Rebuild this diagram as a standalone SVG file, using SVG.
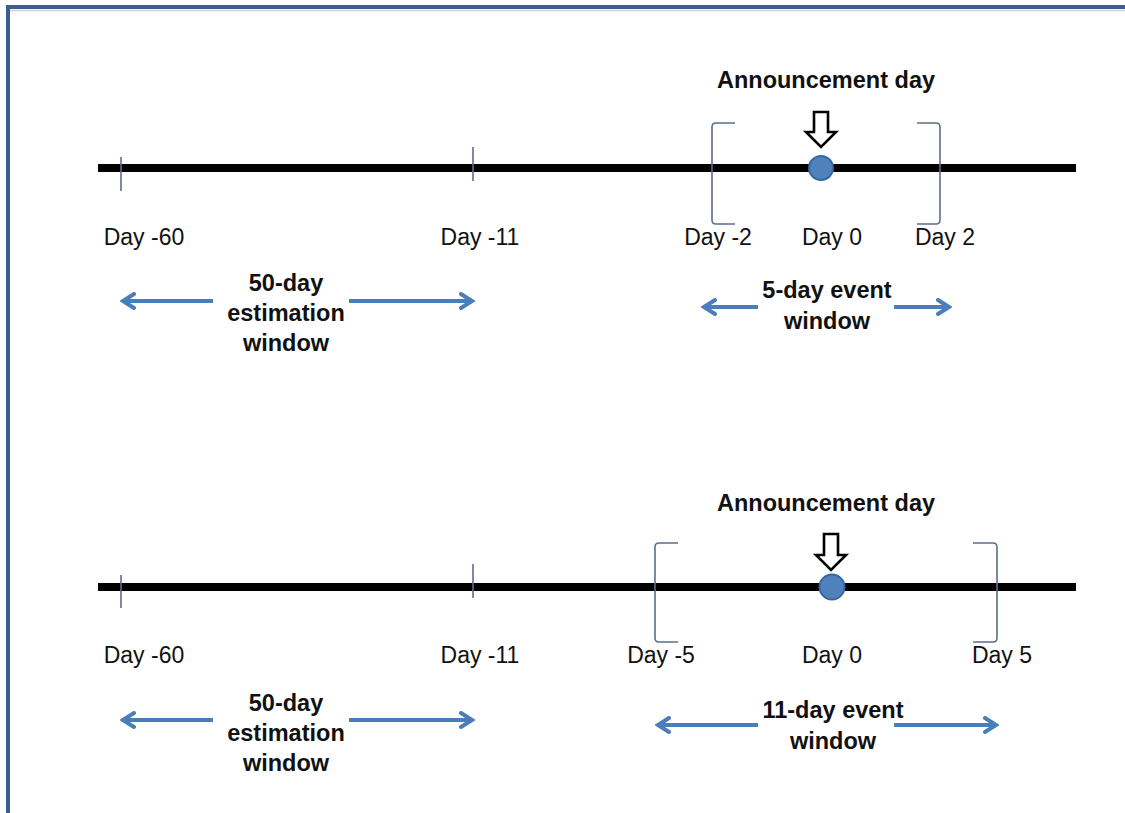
<svg xmlns="http://www.w3.org/2000/svg" width="1125" height="813" viewBox="0 0 1125 813">
<defs>
<style>
.frame{stroke:#3b5f8f;stroke-width:4;fill:none}
.axis{stroke:#000;stroke-width:8;fill:none}
.tick{stroke:#5b6f8c;stroke-width:1.6;fill:none}
.brk{stroke:#5b6f8c;stroke-width:1.6;fill:none}
.dot{fill:#4f81bd;stroke:#3867a0;stroke-width:2}
.hollow{fill:#fff;stroke:#000;stroke-width:2.6;stroke-linejoin:miter}
.blue{stroke:#4a7ebb;stroke-width:4;fill:none;marker-end:url(#head)}
.lbl{font-family:"Liberation Sans",Arial,sans-serif;font-size:23px;fill:#111;text-anchor:middle}
.bold{font-family:"Liberation Sans",Arial,sans-serif;font-size:23.5px;font-weight:bold;fill:#111;text-anchor:middle}
</style>
<marker id="head" viewBox="0 0 16 18" refX="13" refY="9" markerWidth="16" markerHeight="18" markerUnits="userSpaceOnUse" orient="auto">
<path d="M2,2 L13,9 L2,16" fill="none" stroke="#4a7ebb" stroke-width="4" stroke-linejoin="miter" stroke-linecap="round"/>
</marker>
</defs>
<rect width="1125" height="813" fill="#fff"/>
<g id="frame">
<line x1="6" y1="10.5" x2="1125" y2="10.5" stroke="#cfd3da" stroke-width="1.5"/>
<line x1="6" y1="7" x2="1125" y2="7" class="frame"/>
<line x1="8" y1="5" x2="8" y2="813" class="frame"/>
</g>

<g id="timeline1">
<line x1="98" y1="168" x2="1076" y2="168" class="axis"/>
<line x1="121" y1="157" x2="121" y2="191" class="tick"/>
<line x1="473" y1="147" x2="473" y2="181" class="tick"/>
<path class="brk" d="M735,123 H716 Q712,123 712,127 V220 Q712,224 716,224 H735"/>
<path class="brk" d="M917,123 H936 Q940,123 940,127 V220 Q940,224 936,224 H917"/>
<circle class="dot" cx="821" cy="168" r="12"/>
<path class="hollow" d="M814,112 H828 V132 H836 L821,147 L806,132 H814 Z"/>
<text class="bold" x="826" y="88">Announcement day</text>
<text class="lbl" x="144" y="245">Day -60</text>
<text class="lbl" x="480" y="245">Day -11</text>
<text class="lbl" x="718" y="245">Day -2</text>
<text class="lbl" x="832" y="245">Day 0</text>
<text class="lbl" x="945" y="245">Day 2</text>
</g>

<g id="timeline2">
<line x1="98" y1="587" x2="1076" y2="587" class="axis"/>
<line x1="121" y1="575" x2="121" y2="608" class="tick"/>
<line x1="473" y1="564" x2="473" y2="598" class="tick"/>
<path class="brk" d="M678,543 H659 Q655,543 655,547 V638 Q655,642 659,642 H678"/>
<path class="brk" d="M973,543 H993 Q997,543 997,547 V638 Q997,642 993,642 H973"/>
<circle class="dot" cx="832" cy="587" r="12.5"/>
<path class="hollow" d="M824,534 H838 V555 H846 L831,570 L816,555 H824 Z"/>
<text class="bold" x="826" y="511">Announcement day</text>
<text class="lbl" x="144" y="663">Day -60</text>
<text class="lbl" x="480" y="663">Day -11</text>
<text class="lbl" x="661" y="663">Day -5</text>
<text class="lbl" x="832" y="663">Day 0</text>
<text class="lbl" x="1002" y="663">Day 5</text>
</g>

<g id="estimation1">
<text class="bold" x="286" y="291">50-day</text>
<text class="bold" x="286" y="321">estimation</text>
<text class="bold" x="286" y="351">window</text>
</g>
<g id="event1">
<text class="bold" x="827" y="298">5-day event</text>
<text class="bold" x="827" y="329">window</text>
</g>
<g id="estimation2">
<text class="bold" x="286" y="711">50-day</text>
<text class="bold" x="286" y="741">estimation</text>
<text class="bold" x="286" y="771">window</text>
</g>
<g id="event2">
<text class="bold" x="833" y="718">11-day event</text>
<text class="bold" x="833" y="749">window</text>
</g>

<g id="connectors">
<line class="blue" x1="213" y1="301" x2="123" y2="301"/>
<line class="blue" x1="349" y1="301" x2="472" y2="301"/>
<line class="blue" x1="758" y1="307" x2="704" y2="307"/>
<line class="blue" x1="894" y1="307" x2="949" y2="307"/>
<line class="blue" x1="213" y1="720" x2="123" y2="720"/>
<line class="blue" x1="349" y1="720" x2="472" y2="720"/>
<line class="blue" x1="758" y1="725" x2="658" y2="725"/>
<line class="blue" x1="894" y1="725" x2="996" y2="725"/>
</g>
</svg>
